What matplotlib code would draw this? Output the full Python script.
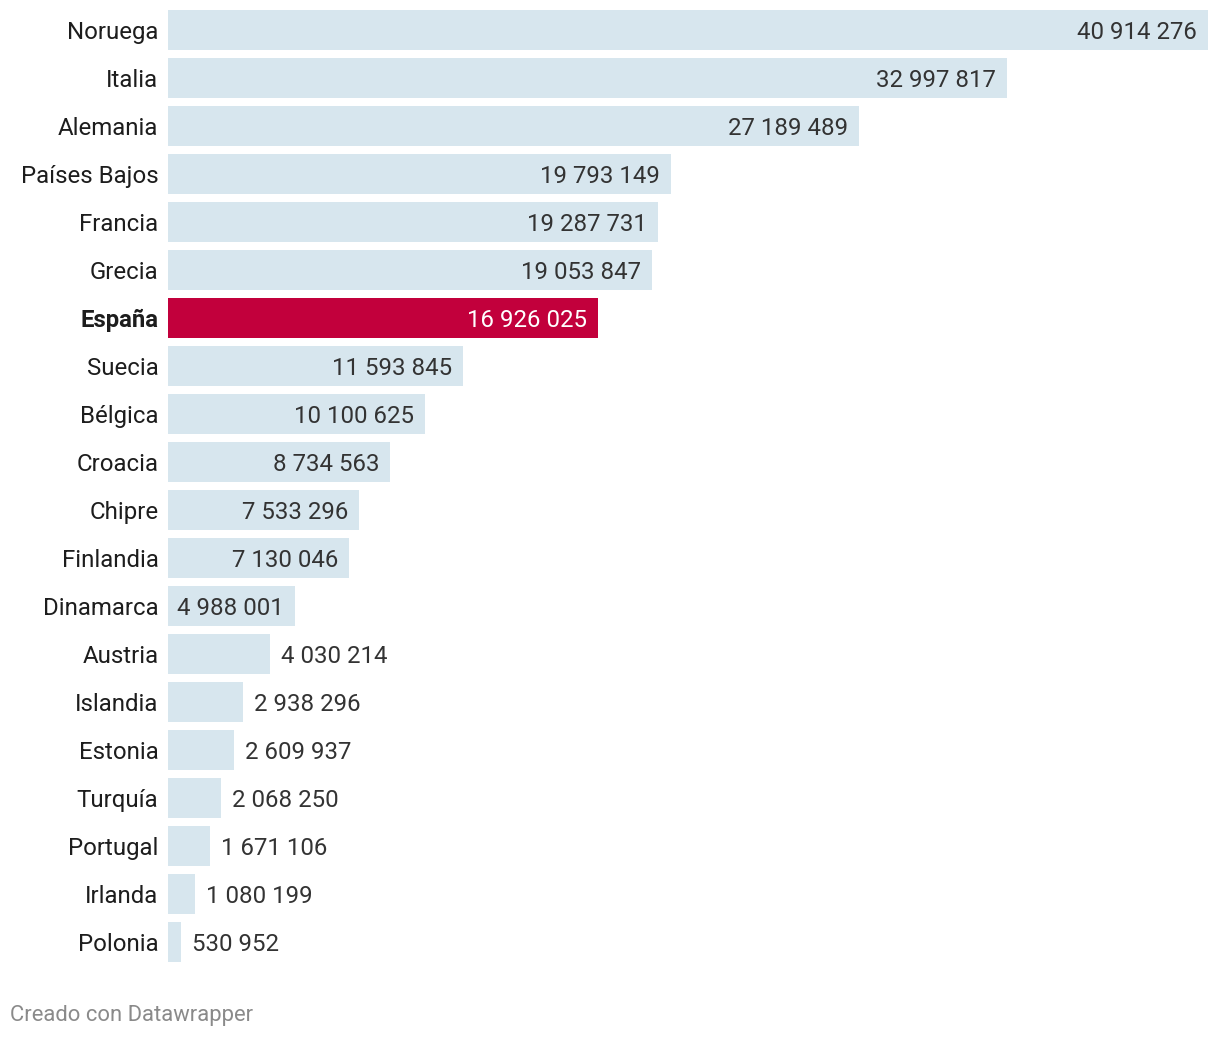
import matplotlib
matplotlib.use("Agg")
import matplotlib.pyplot as plt

plt.rcParams['font.family'] = ['Roboto', 'DejaVu Sans']

countries = ["Noruega", "Italia", "Alemania", "Países Bajos", "Francia", "Grecia",
             "España", "Suecia", "Bélgica", "Croacia", "Chipre", "Finlandia",
             "Dinamarca", "Austria", "Islandia", "Estonia", "Turquía", "Portugal",
             "Irlanda", "Polonia"]
values = [40914276, 32997817, 27189489, 19793149, 19287731, 19053847,
          16926025, 11593845, 10100625, 8734563, 7533296, 7130046,
          4988001, 4030214, 2938296, 2609937, 2068250, 1671106,
          1080199, 530952]
highlight = "España"

W, H = 1220, 1038
DPI = 100
BAR_COLOR = '#d7e6ee'
HL_COLOR = '#c2003c'
FS = 17.3
PAD = 11 * 72 / DPI  # pixels -> points
DY = -1.5  # nudge text down a little


def fmt(v):
    return "{:,}".format(v).replace(",", " ")


fig = plt.figure(figsize=(W / DPI, H / DPI), dpi=DPI)
ax = fig.add_axes([168 / W, 1 - 966 / H, (1208 - 168) / W, 960 / H])
ax.set_xlim(0, max(values))
ax.set_ylim(len(values) - 0.5, -0.5)
ax.axis('off')

ypos = list(range(len(values)))
colors = [HL_COLOR if c == highlight else BAR_COLOR for c in countries]
ax.barh(ypos, values, height=40 / 48, color=colors)

fig.canvas.draw()
renderer = fig.canvas.get_renderer()
px_per_unit = (1208 - 168) / max(values)

for y, c, v in zip(ypos, countries, values):
    hl = c == highlight
    ax.annotate(c, xy=(0, y), xytext=(-PAD + 1, DY), textcoords='offset points',
                ha='right', va='center', fontsize=FS, color='#1d1d1d',
                fontweight='bold' if hl else 'normal')
    t = ax.annotate(fmt(v), xy=(v, y), xytext=(-PAD, DY), textcoords='offset points',
                    ha='right', va='center', fontsize=FS,
                    color='white' if hl else '#333333')
    tw = t.get_window_extent(renderer).width
    # label goes outside when it does not fit in the bar
    if tw + 16 > v * px_per_unit:
        t.set_position((PAD, DY))
        t.set_ha('left')
        t.set_color('#333333')

fig.text(10 / W, 1 - 1016 / H, "Creado con Datawrapper", fontsize=15.8,
         color='#8a8a8a', ha='left', va='center')

fig.savefig("out.png", dpi=DPI)
